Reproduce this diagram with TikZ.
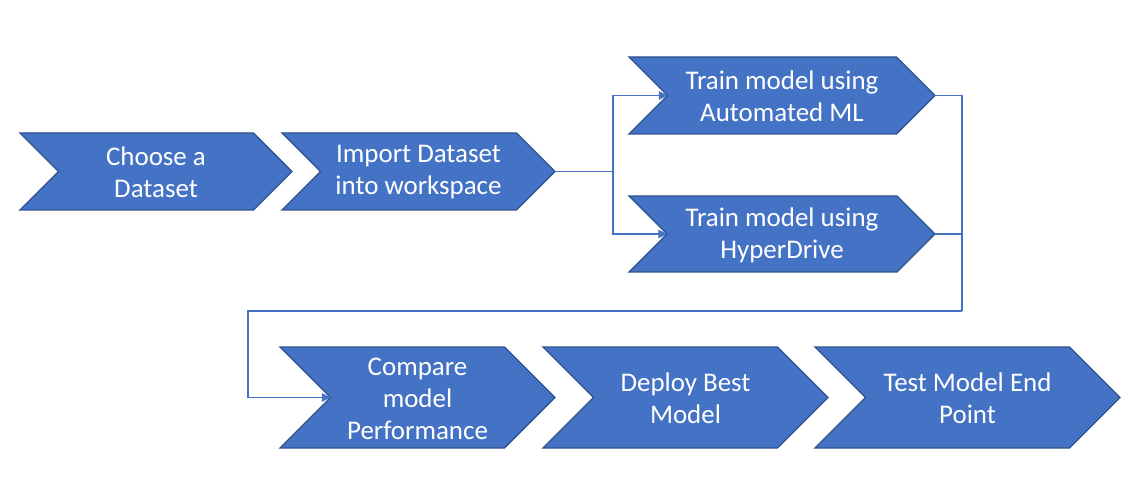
\documentclass[tikz,border=0pt]{standalone}
\usepackage{fontspec}
\setmainfont{Carlito}
\usetikzlibrary{arrows.meta}
\definecolor{chevblue}{HTML}{4472C4}
\definecolor{chevedge}{HTML}{2F528F}
\tikzset{
  chevshape/.style={fill=chevblue, draw=chevedge, line width=1pt, line join=miter},
  chevtext/.style={text=white, align=center, font=\fontsize{20.2}{24}\selectfont, inner sep=0pt},
  link/.style={draw=chevblue, line width=0.8pt},
  linkarrow/.style={link, -{Triangle[length=6.5pt, width=6.5pt]}}
}
\begin{document}
\begin{tikzpicture}[x=0.75pt, y=-0.75pt]
    % canvas
    \useasboundingbox (0,0) rectangle (1142,502);

    % Draw the chevrons: name / left / tip / top / bottom / text
    \foreach \nm/\xa/\xb/\ya/\yb/\txt in {
        choose/20/292/133/210/{Choose a\\Dataset},
        import/282/555/133/210/{Import Dataset\\into workspace},
        automl/629/935/57/134/{Train model using\\Automated ML},
        hyper/629/935/196/272/{Train model using\\HyperDrive},
        compare/280/555/347/448/{Compare\\model\\Performance},
        deploy/543/828/347/448/{Deploy Best\\Model},
        test/815/1120/347/448/{Test Model End\\Point}} {
        \pgfmathsetmacro{\d}{(\yb-\ya)/2}
        \path[chevshape] (\xa,\ya) -- (\xb-\d,\ya) -- (\xb,\ya+\d) -- (\xb-\d,\yb)
            -- (\xa,\yb) -- (\xa+\d,\ya+\d) -- cycle;
        \node[chevtext] (\nm) at ({(\xa+\xb)/2},{(\ya+\yb)/2+1}) {\txt};
        \coordinate (\nm-in) at (\xa+\d,\ya+\d);
        \coordinate (\nm-out) at (\xb,\ya+\d);
    }

    % split to the two trainers
    \draw[link] (import-out) -- ++(58,0) coordinate (split);
    \draw[linkarrow] (split) |- (automl-in);
    \draw[linkarrow] (split) |- (hyper-in);

    % merge back to the comparison
    \coordinate (merge) at (962,311);
    \coordinate (back) at (248,311);
    \draw[link] (automl-out) -| (merge);
    \draw[link] (hyper-out) -| (merge);
    \draw[linkarrow] (merge) -- (back) |- (compare-in);
\end{tikzpicture}
\end{document}
